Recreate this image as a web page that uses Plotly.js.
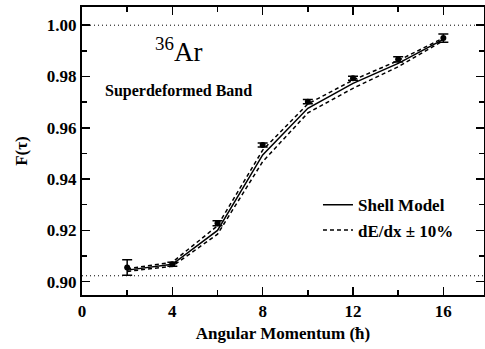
<!DOCTYPE html>
<html>
<head>
<meta charset="utf-8">
<script src="https://cdn.plot.ly/plotly-3.0.1.min.js"></script>
<style>html,body{margin:0;padding:0;background:#fff;}#chart{width:485px;height:349px;}</style>
</head>
<body>
<div id="chart"></div>
<script>
// Angular momentum (hbar)
const spin = [2, 4, 6, 8, 10, 12, 14, 16];
// Measured F(tau) with errors
const fMeasured = [0.9055, 0.9068, 0.9228, 0.9533, 0.9702, 0.9793, 0.9867, 0.9950];
const fError    = [0.0030, 0.0008, 0.0010, 0.0008, 0.0008, 0.0008, 0.0010, 0.0016];
// Shell model calculation
const fShell = [0.9045, 0.9068, 0.9200, 0.9494, 0.9676, 0.9773, 0.9851, 0.9945];
// dE/dx +10% / -10%
const fUpper = [0.9050, 0.9076, 0.9218, 0.9513, 0.9693, 0.9786, 0.9862, 0.9950];
const fLower = [0.9040, 0.9060, 0.9185, 0.9468, 0.9658, 0.9754, 0.9838, 0.9940];
// Reference dotted levels
const refLevels = [1.00, 0.9023];

const font = "Times New Roman, Liberation Serif, DejaVu Serif, serif";

const traces = [
  {x: spin, y: fShell, mode: 'lines', name: 'Shell Model',
   line: {color: '#000', width: 1.5}, legendgroup: 'a'},
  {x: spin, y: fUpper, mode: 'lines', name: 'dE/dx \u00b1 10%',
   line: {color: '#000', width: 1.5, dash: '4px,3px'}, legendgroup: 'b'},
  {x: spin, y: fLower, mode: 'lines', showlegend: false,
   line: {color: '#000', width: 1.5, dash: '4px,3px'}, legendgroup: 'b'},
  {x: spin, y: fMeasured, mode: 'markers', showlegend: false,
   marker: {color: '#000', size: 6},
   error_y: {type: 'data', array: fError, visible: true, color: '#000', thickness: 1.5, width: 5}}
];

const shapes = refLevels.map(v => ({
  type: 'line', xref: 'paper', x0: 0, x1: 1, yref: 'y', y0: v, y1: v,
  line: {color: '#000', width: 1, dash: '1px,3px'}
}));

const layout = {
  width: 485, height: 349,
  margin: {l: 82, r: 1, t: 7, b: 54},
  paper_bgcolor: '#fff', plot_bgcolor: '#fff',
  font: {family: font, color: '#000', size: 15},
  showlegend: true,
  legend: {x: 0.587, y: 0.374, xanchor: 'left', yanchor: 'top',
           bgcolor: 'rgba(0,0,0,0)', font: {family: font, size: 17, weight: 'bold'},
           tracegroupgap: 0},
  xaxis: {
    range: [0, 17.8], tickvals: [0, 4, 8, 12, 16], ticktext: ['0','4','8','12','16'],
    ticks: 'inside', ticklen: 8, tickwidth: 1.5, tickcolor: '#000',
    minor: {tickvals: [2, 6, 10, 14], ticks: 'inside', ticklen: 5, tickwidth: 1.5, tickcolor: '#000'},
    showline: true, linecolor: '#000', linewidth: 2, mirror: 'ticks',
    showgrid: false, zeroline: false,
    tickfont: {family: font, size: 17, weight: 'bold'},
    title: {text: 'Angular Momentum (\u0127)', font: {family: font, size: 17, weight: 'bold'}, standoff: 7}
  },
  yaxis: {
    range: [0.8948, 1.0071], tickvals: [0.90, 0.92, 0.94, 0.96, 0.98, 1.00],
    ticktext: ['0.90','0.92','0.94','0.96','0.98','1.00'],
    ticks: 'inside', ticklen: 8, tickwidth: 1.5, tickcolor: '#000',
    minor: {tickvals: [0.91, 0.93, 0.95, 0.97, 0.99], ticks: 'inside', ticklen: 5, tickwidth: 1.5, tickcolor: '#000'},
    showline: true, linecolor: '#000', linewidth: 2, mirror: 'ticks',
    showgrid: false, zeroline: false,
    tickfont: {family: font, size: 17, weight: 'bold'},
    title: {text: 'F(\u03c4)', font: {family: font, size: 17, weight: 'bold'}, standoff: 15}
  },
  shapes: shapes,
  annotations: [
    {xref: 'paper', yref: 'paper', x: 0.241, y: 0.85, xanchor: 'center', yanchor: 'middle',
     showarrow: false, text: '<sup>36</sup>Ar', font: {family: font, size: 27}},
    {xref: 'paper', yref: 'paper', x: 0.24, y: 0.708, xanchor: 'center', yanchor: 'middle',
     showarrow: false, text: 'Superdeformed Band', font: {family: font, size: 16, weight: 'bold'}}
  ]
};

Plotly.newPlot('chart', traces, layout, {displayModeBar: false, staticPlot: true});
</script>
</body>
</html>
